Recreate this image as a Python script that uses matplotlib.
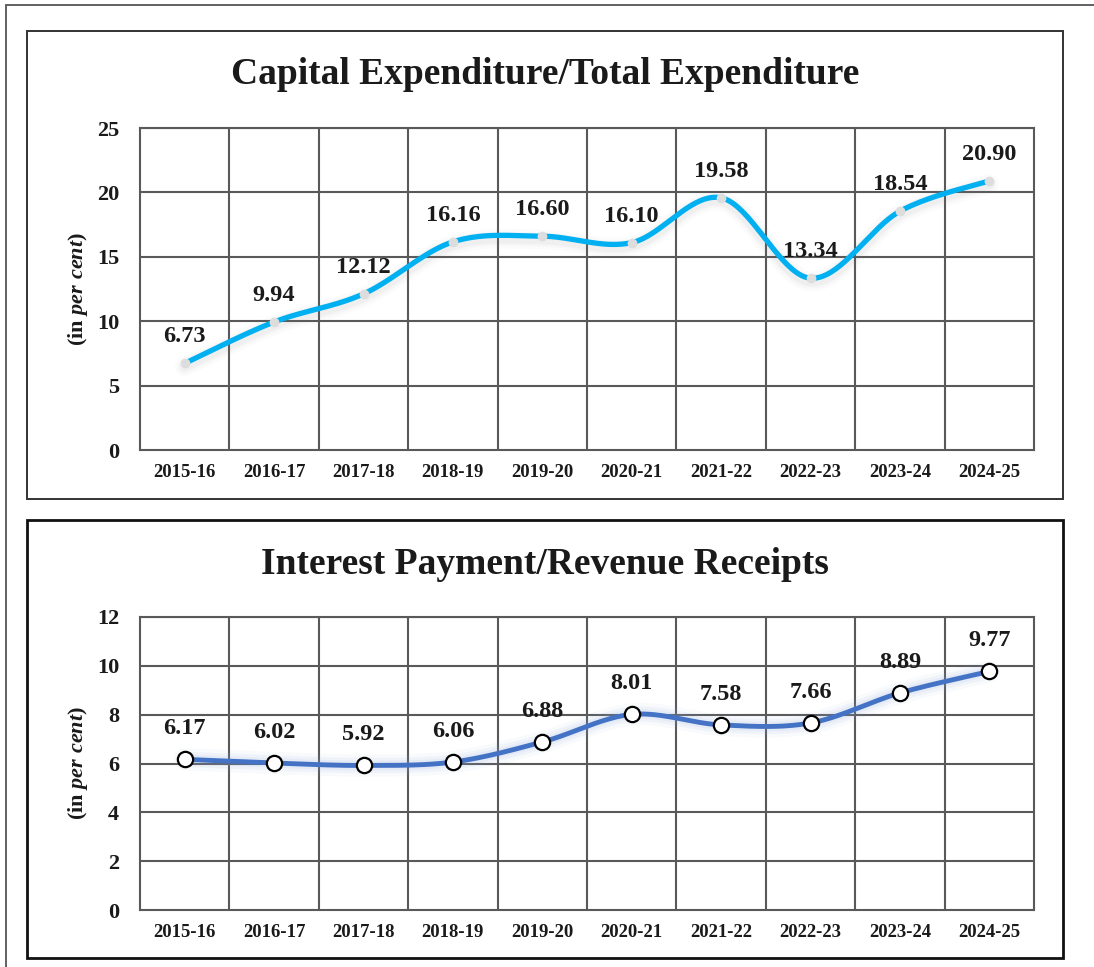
import numpy as np
import matplotlib
matplotlib.use("Agg")
import matplotlib.pyplot as plt
from matplotlib.patches import Rectangle

plt.rcParams['font.family'] = ['Liberation Serif', 'DejaVu Serif']
plt.rcParams['font.weight'] = 'bold'
plt.rcParams['mathtext.fontset'] = 'custom'
plt.rcParams['mathtext.rm'] = 'Liberation Serif:bold'
plt.rcParams['mathtext.it'] = 'Liberation Serif:bold:italic'
plt.rcParams['mathtext.bf'] = 'Liberation Serif:bold'

years = ['2015-16', '2016-17', '2017-18', '2018-19', '2019-20',
         '2020-21', '2021-22', '2022-23', '2023-24', '2024-25']
capex_share = [6.73, 9.94, 12.12, 16.16, 16.60, 16.10, 19.58, 13.34, 18.54, 20.90]
interest_share = [6.17, 6.02, 5.92, 6.06, 6.88, 8.01, 7.58, 7.66, 8.89, 9.77]
title1 = 'Capital Expenditure/Total Expenditure'
title2 = 'Interest Payment/Revenue Receipts'
ylabel = r'(in$\ \mathit{per\ cent}$)'

W, H = 1094, 967
fig = plt.figure(figsize=(W / 100, H / 100), dpi=100)


def fx(px):
    return px / W


def fy(py):
    return 1 - py / H


def smooth(x, y, n=40):
    x = np.asarray(x, float)
    y = np.asarray(y, float)
    P = np.column_stack([x, y])
    out = []
    for i in range(len(P) - 1):
        p0 = P[i - 1] if i > 0 else P[i]
        p1 = P[i]
        p2 = P[i + 1]
        p3 = P[i + 2] if i + 2 < len(P) else P[i + 1]
        c1 = p1 + (p2 - p0) / 6.0
        c2 = p2 - (p3 - p1) / 6.0
        t = np.linspace(0, 1, n)[:, None]
        seg = ((1 - t) ** 3) * p1 + 3 * ((1 - t) ** 2) * t * c1 + 3 * (1 - t) * t ** 2 * c2 + t ** 3 * p2
        out.append(seg if i == 0 else seg[1:])
    s = np.vstack(out)
    return s[:, 0], s[:, 1]


# outer frame
fig.add_artist(Rectangle((fx(6), fy(1200)), fx(1200), fy(5) - fy(1200),
                         transform=fig.transFigure, fill=False,
                         edgecolor='#555555', linewidth=1.3))
# panel frames
fig.add_artist(Rectangle((fx(27), fy(499)), fx(1063) - fx(27), fy(31) - fy(499),
                         transform=fig.transFigure, fill=False,
                         edgecolor='#333333', linewidth=1.4))
fig.add_artist(Rectangle((fx(27), fy(958)), fx(1063) - fx(27), fy(520) - fy(958),
                         transform=fig.transFigure, fill=False,
                         edgecolor='#111111', linewidth=2.0))


def make_axes(x0, y0, x1, y1):
    return fig.add_axes([fx(x0), fy(y1), fx(x1) - fx(x0), fy(y0) - fy(y1)])


def style(ax, ymax, ystep):
    ax.set_xlim(-0.5, len(years) - 0.5)
    ax.set_ylim(0, ymax)
    ax.set_yticks(np.arange(0, ymax + 0.01, ystep))
    ax.set_xticks(range(len(years)))
    ax.set_xticklabels(years, fontsize=13.5, fontweight='bold', color='#1a1a1a')
    ax.tick_params(axis='y', labelsize=16, length=0, pad=15, colors='#1a1a1a')
    ax.tick_params(axis='x', length=0, pad=10)
    for yv in np.arange(ystep, ymax + 0.01, ystep):
        ax.axhline(yv, color='#595959', linewidth=1.5, zorder=1)
    for xv in np.arange(0.5, len(years) - 0.5, 1):
        ax.axvline(xv, color='#595959', linewidth=1.5, zorder=1)
    for sp in ax.spines.values():
        sp.set_color('#595959')
        sp.set_linewidth(1.5)
    ax.set_ylabel(ylabel, fontsize=16, fontweight='bold', labelpad=5, color='#1a1a1a')


# --- top chart
ax1 = make_axes(140, 128, 1034, 450)
style(ax1, 25, 5)
x = np.arange(len(years))
sx, sy = smooth(x, capex_share)
for lw, a in [(14, 0.03), (10, 0.04), (7, 0.05)]:
    ax1.plot(sx, sy - 0.25, color='#808080', linewidth=lw, alpha=a, solid_capstyle='round', zorder=2)
ax1.plot(sx, sy, color='#00B0F0', linewidth=3.8, zorder=3)
ax1.plot(x, capex_share, linestyle='none', marker='o', markersize=6,
         markerfacecolor='#DDDDDD', markeredgecolor='#DDDDDD', zorder=4)
for xi, v in zip(x, capex_share):
    ax1.annotate(f'{v:.2f}', (xi, v), xytext=(0, 19), textcoords='offset points',
                 ha='center', va='center', fontsize=17.5, fontweight='bold', color='#1a1a1a', zorder=5)
fig.text(fx(545), fy(75), title1, ha='center', va='center', fontsize=27,
         fontweight='bold', color='#1a1a1a')

# --- bottom chart
ax2 = make_axes(140, 617, 1034, 910)
style(ax2, 12, 2)
sx, sy = smooth(x, interest_share)
for lw, a in [(16, 0.06), (11, 0.08), (7, 0.10)]:
    ax2.plot(sx, sy, color='#8FAADC', linewidth=lw, alpha=a, solid_capstyle='round', zorder=2)
ax2.plot(sx, sy, color='#4472C4', linewidth=3.5, zorder=3)
ax2.plot(x, interest_share, linestyle='none', marker='o', markersize=11,
         markerfacecolor='white', markeredgecolor='black', markeredgewidth=1.6, zorder=4)
for xi, v in zip(x, interest_share):
    ax2.annotate(f'{v:.2f}', (xi, v), xytext=(0, 22), textcoords='offset points',
                 ha='center', va='center', fontsize=17.5, fontweight='bold', color='#1a1a1a', zorder=5)
fig.text(fx(545), fy(564), title2, ha='center', va='center', fontsize=27,
         fontweight='bold', color='#1a1a1a')

fig.savefig('out.png', dpi=100)
